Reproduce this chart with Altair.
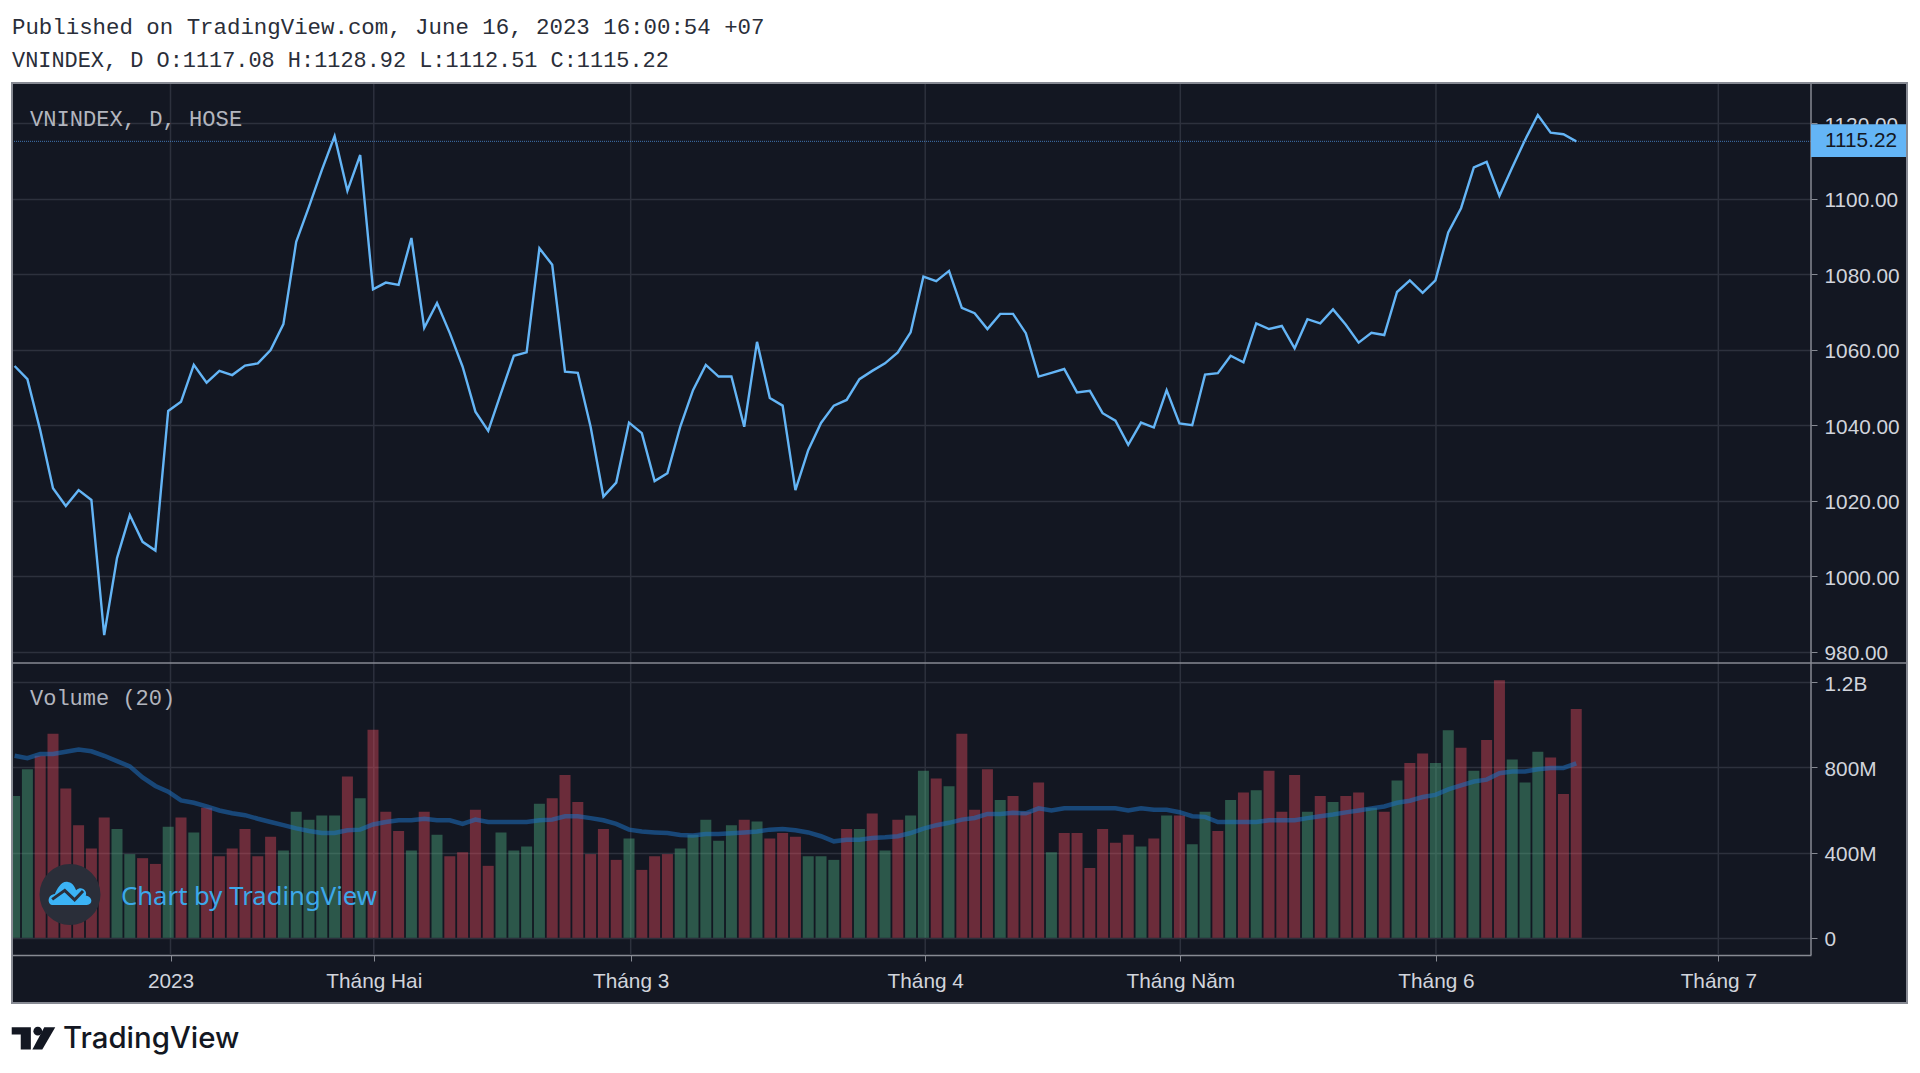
import altair as alt
import pandas as pd

price_close = [
    1055.7, 1052.2, 1038.7, 1023.3, 1018.6, 1022.8, 1020.2, 984.4, 1004.8, 1016.2,
    1009.1, 1006.8, 1043.8, 1046.2, 1056.0, 1051.3, 1054.4, 1053.3, 1055.8, 1056.4,
    1059.9, 1066.8, 1088.6, 1097.9, 1107.6, 1116.6, 1102.1, 1111.6, 1076.0, 1077.8,
    1077.2, 1089.6, 1065.8, 1072.4, 1064.4, 1055.5, 1043.6, 1038.5, 1048.5, 1058.4,
    1059.3, 1086.9, 1082.5, 1054.2, 1053.9, 1039.6, 1021.1, 1024.8, 1040.7, 1037.9,
    1025.2, 1027.3, 1039.6, 1049.3, 1056.0, 1052.9, 1052.9, 1039.6, 1062.1, 1047.2,
    1045.2, 1022.8, 1033.4, 1040.6, 1045.2, 1046.7, 1052.2, 1054.4, 1056.4, 1059.3,
    1064.6, 1079.4, 1078.2, 1080.9, 1071.1, 1069.7, 1065.5, 1069.5, 1069.5, 1064.4,
    1052.9, 1053.9, 1054.9, 1048.7, 1049.1, 1043.2, 1041.2, 1034.8, 1040.7, 1039.4,
    1049.3, 1040.5, 1040.0, 1053.4, 1053.8, 1058.4, 1056.7, 1067.0, 1065.5, 1066.3,
    1060.4, 1068.1, 1067.0, 1070.7, 1066.6, 1061.9, 1064.5, 1063.9, 1075.3, 1078.4,
    1075.1, 1078.4, 1091.1, 1097.5, 1108.3, 1109.8, 1100.8, 1108.3, 1115.6, 1122.2,
    1117.5, 1117.1, 1115.22,
]
volume_m = [
    666, 792, 855, 958, 701, 529, 420, 565, 511, 393,
    374, 347, 521, 565, 494, 611, 383, 420, 511, 383,
    475, 410, 592, 555, 574, 574, 757, 656, 977, 592,
    502, 410, 592, 484, 383, 402, 601, 338, 494, 410,
    429, 630, 656, 765, 638, 393, 511, 366, 466, 319,
    383, 393, 420, 484, 555, 456, 529, 555, 546, 466,
    492, 475, 383, 383, 366, 511, 511, 584, 410, 555,
    574, 784, 748, 712, 958, 601, 792, 647, 666, 592,
    729, 402, 492, 492, 328, 511, 447, 484, 429, 466,
    574, 574, 439, 592, 502, 647, 683, 693, 784, 592,
    765, 592, 666, 638, 666, 683, 611, 592, 739, 821,
    866, 821, 975, 893, 784, 929, 1210, 838, 729, 874,
    847, 675, 1075,
]
volume_direction = list(
    "ggrrrrrrgg" "rrgrgrrrrr" "rgggggrgrr" "rgrgrrrrgg" "ggrrrrrrgr"
    "rrgggggrgr" "rrgggrgrgr" "ggrgrrrgrr" "rgrrrrrrgr" "grggrgrgrr"
    "rgrgrrgrgr" "rggrgrrggg" "rrr"
)
volume_ma = [
    855, 844, 863, 863, 874, 884, 876, 855, 830, 805,
    753, 713, 686, 645, 634, 617, 598, 585, 576, 559,
    544, 529, 514, 502, 492, 492, 505, 508, 532, 544,
    552, 552, 559, 552, 552, 535, 555, 544, 544, 544,
    544, 552, 555, 571, 571, 562, 552, 535, 508, 499,
    495, 492, 483, 480, 488, 488, 491, 495, 499, 508,
    511, 505, 495, 477, 453, 461, 461, 469, 472, 477,
    492, 513, 529, 540, 555, 563, 582, 582, 587, 585,
    608, 598, 608, 608, 608, 608, 608, 598, 608, 601,
    601, 590, 571, 568, 544, 544, 544, 544, 552, 552,
    552, 562, 571, 579, 589, 598, 608, 617, 634, 644,
    661, 671, 697, 716, 734, 743, 773, 781, 781, 792,
    798, 798, 819,
]
bar_index = list(range(len(price_close)))

price_ticks = [980, 1000, 1020, 1040, 1060, 1080, 1100, 1120]
volume_ticks = [0, 400, 800, 1200]
volume_tick_labels = ["0", "400M", "800M", "1.2B"]
time_ticks = [12.18, 28.06, 48.13, 71.14, 91.07, 111.04, 133.1]
time_tick_labels = ["2023", "Tháng Hai", "Tháng 3", "Tháng 4", "Tháng Năm", "Tháng 6", "Tháng 7"]
last_price = 1115.22

header_1 = "Published on TradingView.com, June 16, 2023 16:00:54 +07"
header_2 = "VNINDEX, D O:1117.08 H:1128.92 L:1112.51 C:1115.22"
pane_title_1 = "VNINDEX, D, HOSE"
pane_title_2 = "Volume (20)"
watermark = "Chart by TradingView"
logo_text = "TradingView"

W, H = 1799, 872
BG = "#131722"
GRID = "#2d313d"
LINE = "#878a93"
AXTXT = "#d1d4dc"
BLUE = "#64b5f6"
MONO = "Liberation Mono"
SANS = "Liberation Sans"

rows = pd.DataFrame({
    "i": bar_index, "close": price_close, "vol": volume_m,
    "ma": volume_ma, "dir": volume_direction,
})
tick_rows = pd.DataFrame({"t": time_ticks})
one = pd.DataFrame({"a": [0]})

x_scale = alt.Scale(domain=[-0.2031, 140.34], range=[0, W], nice=False, zero=False, padding=0)
price_scale = alt.Scale(domain=[980, 1120], range=[568.7, 40.3], nice=False, zero=False)
vol_scale = alt.Scale(domain=[0, 1200], range=[854.8, 599.3], nice=False, zero=False)

x_labels = "[" + ",".join(f"'{s}'" for s in time_tick_labels) + "]"
x_values = "[" + ",".join(str(v) for v in time_ticks) + "]"
x_axis = alt.Axis(
    values=time_ticks, labelExpr=f"{x_labels}[indexof({x_values},datum.value)]",
    title=None, grid=False, domain=True, domainColor=LINE,
    domainWidth=1.5, tickColor=LINE, tickSize=6, labelColor=AXTXT, labelFont=SANS,
    labelFontSize=20.8, labelPadding=10, labelOverlap=False, labelFlush=False,
)
price_axis = alt.Axis(
    values=price_ticks, format=".2f", orient="right", title=None, grid=True,
    gridColor=GRID, gridWidth=1.5, domain=False, tickColor=LINE, tickSize=6,
    labelColor=AXTXT, labelFont=SANS, labelFontSize=20.8, labelPadding=7, labelOverlap=False,
    labelOffset=2,
)
v_labels = "[" + ",".join(f"'{s}'" for s in volume_tick_labels) + "]"
v_values = "[" + ",".join(str(v) for v in volume_ticks) + "]"
volume_axis = alt.Axis(
    values=volume_ticks, labelExpr=f"{v_labels}[indexof({v_values},datum.value)]",
    orient="right", title=None, grid=True, gridColor=GRID, gridWidth=1.5, domain=False,
    tickColor=LINE, tickSize=6, labelColor=AXTXT, labelFont=SANS, labelFontSize=20.8,
    labelPadding=7, labelOverlap=False, labelOffset=2,
)


def box(x, x2, y, y2, **kw):
    return alt.Chart(one).mark_rect(**kw).encode(
        x=alt.value(x), x2=alt.value(x2), y=alt.value(y), y2=alt.value(y2))


def label(txt, x, y, **kw):
    return alt.Chart(one).mark_text(
        text=txt, align="left", baseline="middle", **kw
    ).encode(x=alt.value(x), y=alt.value(y))


def glyph(path, x, y, r, **kw):
    return alt.Chart(one).mark_point(shape=path, size=(2 * r) ** 2, opacity=1, **kw).encode(
        x=alt.value(x), y=alt.value(y))


# white page around the dark frame
white = [
    box(-4, 1900, -75, -1, fill="white"),
    box(-4, -1, -75, 982, fill="white"),
    box(1896, 1900, -75, 982, fill="white"),
    box(-4, 1900, 921, 982, fill="white"),
]

time_grid = alt.Chart(tick_rows).mark_rule(color=GRID, strokeWidth=1.5).encode(
    x=alt.X("t:Q", scale=x_scale, axis=x_axis),
    y=alt.value(0), y2=alt.value(H),
)
bars = alt.Chart(rows).mark_bar(size=11, clip=True, opacity=0.4).encode(
    x=alt.X("i:Q", scale=x_scale, axis=x_axis),
    y=alt.Y("vol:Q", scale=vol_scale, axis=volume_axis),
    color=alt.Color("dir:N", scale=alt.Scale(domain=["r", "g"], range=["#ef4e5e", "#53b987"]), legend=None),
)
ma_line = alt.Chart(rows).mark_line(color="#1e6fc0", opacity=0.55, strokeWidth=4.5, clip=True).encode(
    x=alt.X("i:Q", scale=x_scale, axis=x_axis),
    y=alt.Y("ma:Q", scale=vol_scale, axis=None),
)
last_line = alt.Chart(one).mark_rule(color="#4d8fd6", opacity=0.8, strokeDash=[1, 1], strokeWidth=1).encode(
    y=alt.Y("v:Q", scale=price_scale, axis=None),
).transform_calculate(v=str(last_price))
price_line = alt.Chart(rows).mark_line(color=BLUE, strokeWidth=2.4, clip=True).encode(
    x=alt.X("i:Q", scale=x_scale, axis=x_axis),
    y=alt.Y("close:Q", scale=price_scale, axis=price_axis),
)

right_divider = alt.Chart(one).mark_rule(color=LINE, strokeWidth=1.5).encode(
    x=alt.value(W), y=alt.value(0), y2=alt.value(H))
pane_divider = alt.Chart(one).mark_rule(color=LINE, strokeWidth=1.5).encode(
    x=alt.value(0), x2=alt.value(1895), y=alt.value(580))
frame = box(0, 1895, 0, 920, fill=None, stroke=LINE, strokeWidth=2)

price_tag = box(1799, 1895, 41.3, 74, fill=BLUE)
price_tag_text = alt.Chart(one).mark_text(
    text=f"{last_price:.2f}", align="left", baseline="middle", font=SANS, fontSize=20.8, color=BG
).encode(
    x=alt.value(1813),
    y=alt.Y("v:Q", scale=price_scale, axis=None),
).transform_calculate(v=str(last_price))

cloud = ("M-0.8,0.55 C-1.1,0.55 -1.1,0.05 -0.72,0.02 C-0.6,-0.2 -0.45,-0.6 -0.1,-0.55 "
         "C0.2,-0.5 0.25,-0.2 0.3,-0.15 C0.55,-0.4 0.85,-0.1 0.75,0.1 C1.1,0.15 1.1,0.55 0.8,0.55 Z")
cloud_zig = "M-0.85,0.28 L-0.25,-0.15 L0.22,0.3 L0.62,-0.12"
tv_t = "M-0.99,-0.51 L-0.12,-0.51 L-0.12,0.51 L-0.58,0.51 L-0.58,-0.18 L-0.99,-0.18 Z"
tv_dot = "M-0.005,-0.33 a0.2,0.2 0 1,0 0.4,0 a0.2,0.2 0 1,0 -0.4,0 Z"
tv_slant = "M0.99,-0.51 L0.49,-0.51 L-0.05,0.51 L0.4,0.51 Z"

decor = [
    alt.Chart(one).mark_point(shape="circle", filled=True, size=3721, color="#2a2e39", opacity=1).encode(
        x=alt.value(58), y=alt.value(811.5)),
    glyph(cloud, 58, 810.5, 21, filled=True, color="#3bb3f5"),
    glyph(cloud_zig, 58, 810.5, 21, filled=False, color="#2a2e39", strokeWidth=3),
    label(watermark, 109, 814, font="Noto Sans", fontSize=25.7, color="#3ca8ea"),
    label(header_1, 0, -56, font=MONO, fontSize=22.4, color="#2a2e39"),
    label(header_2, 0, -23, font=MONO, fontSize=21.9, color="#2a2e39"),
    label(pane_title_1, 18, 36, font=MONO, fontSize=22.1, color="#b2b5be"),
    label(pane_title_2, 18, 615, font=MONO, fontSize=22, color="#b2b5be"),
    glyph(tv_t, 21.5, 955.4, 22, filled=True, color=BG),
    glyph(tv_dot, 21.5, 955.4, 22, filled=True, color=BG),
    glyph(tv_slant, 21.5, 955.4, 22, filled=True, color=BG),
    label(logo_text, 51, 956, font="Inter", fontSize=29.4, fontWeight=500, color=BG),
]

chart = alt.layer(
    time_grid, bars, ma_line, price_line, last_line, right_divider, pane_divider,
    price_tag, price_tag_text, *white, frame, *decor,
).resolve_scale(y="independent", color="independent").resolve_axis(y="independent").properties(
    width=W, height=H, background=BG,
    padding={"left": 4, "top": 75, "right": 101, "bottom": 110},
    autosize=alt.AutoSizeParams(type="none"),
).configure_view(stroke=None)

chart.save("out.html", embed_options={"renderer": "svg", "actions": False})
